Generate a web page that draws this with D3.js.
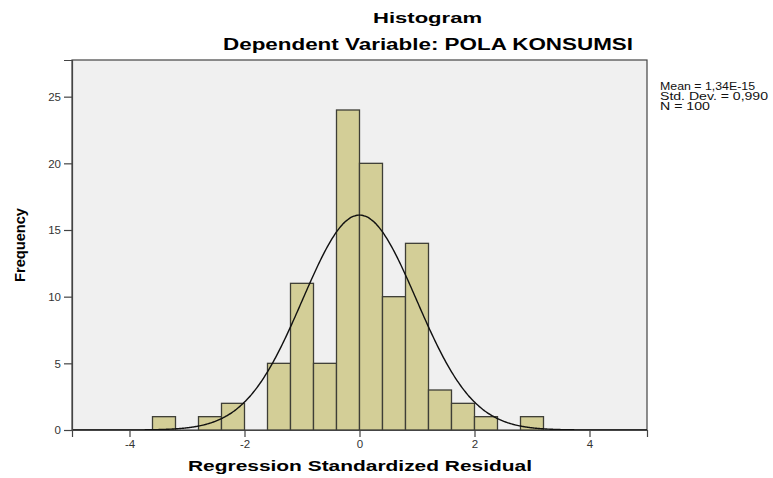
<!DOCTYPE html>
<html><head><meta charset="utf-8">
<script src="https://cdn.jsdelivr.net/npm/d3@7"></script>
<style>body{margin:0;background:#fff}svg{display:block;font-family:Arial,"Liberation Sans",sans-serif}</style>
</head><body><svg id="c" width="773" height="478"></svg>
<script>
const binStarts = [-3.6,-3.2,-2.8,-2.4,-2.0,-1.6,-1.2,-0.8,-0.4,0.0,0.4,0.8,1.2,1.6,2.0,2.4,2.8];
const counts    = [1,0,1,2,0,5,11,5,24,20,10,14,3,2,1,0,1];
const binWidth = 0.4;
const xTicks = [-4,-2,0,2,4];
const yTicks = [0,5,10,15,20,25];
const statLines = ["Mean = 1,34E-15","Std. Dev. = 0,990","N = 100"];
const mean = 1.34e-15, sd = 0.990, n = 100;

const svg = d3.select("#c");
const L=72,R=647,T=60,B=430;
const x = d3.scaleLinear().domain([-5,5]).range([L,R]);
const y = d3.scaleLinear().domain([0,27.75]).range([B,T]);

svg.append("rect").attr("x",L).attr("y",T).attr("width",R-L).attr("height",B-T)
  .attr("fill","#f0f0f0").attr("stroke","#444").attr("stroke-width",1.2);

const bins = binStarts.map((s,i)=>({s,c:counts[i]})).filter(d=>d.c>0);
svg.append("g").selectAll("rect").data(bins).join("rect")
  .attr("x",d=>x(d.s)).attr("width",d=>x(d.s+binWidth)-x(d.s))
  .attr("y",d=>y(d.c)).attr("height",d=>y(0)-y(d.c))
  .attr("fill","#d3ce97").attr("stroke","#3e3e36").attr("stroke-width",1.3);

// fitted normal curve from the stated mean / std. dev. / N
const pts = d3.range(-5,5.001,0.02).map(v=>[v, n*binWidth*Math.exp(-0.5*((v-mean)/sd)**2)/(sd*Math.sqrt(2*Math.PI))]);
svg.append("path").datum(pts).attr("fill","none").attr("stroke","#111").attr("stroke-width",1.4)
  .attr("d",d3.line().x(d=>x(d[0])).y(d=>y(d[1])).curve(d3.curveBasis));

// axes
const xa = svg.append("g").attr("transform",`translate(0,${B})`)
  .call(d3.axisBottom(x).tickValues(xTicks).tickSize(7).tickPadding(3).tickFormat(d3.format("d")));
const ya = svg.append("g").attr("transform",`translate(${L},0)`)
  .call(d3.axisLeft(y).tickValues(yTicks).tickSize(8).tickPadding(3));
[xa,ya].forEach(g=>{
  g.select(".domain").attr("stroke","#444").attr("stroke-width",1.2);
  g.selectAll(".tick line").attr("stroke","#444").attr("stroke-width",1.2);
  g.selectAll(".tick text").attr("fill","#333").style("font-size","11.5px").style("font-family","Arial,'Liberation Sans',sans-serif");
});
xa.selectAll(".tick text").text(d=>d<0?"-"+Math.abs(d):d);

// titles
svg.append("text").attr("x",427.5).attr("y",23).attr("text-anchor","middle")
  .attr("font-weight","bold").attr("font-size",15.5).attr("textLength",109).attr("lengthAdjust","spacingAndGlyphs").text("Histogram");
svg.append("text").attr("x",428).attr("y",50).attr("text-anchor","middle")
  .attr("font-weight","bold").attr("font-size",16).attr("textLength",410).attr("lengthAdjust","spacingAndGlyphs").text("Dependent Variable: POLA KONSUMSI");
svg.append("text").attr("x",360).attr("y",471).attr("text-anchor","middle")
  .attr("font-weight","bold").attr("font-size",15).attr("textLength",344).attr("lengthAdjust","spacingAndGlyphs").text("Regression Standardized Residual");
svg.append("text").attr("transform","translate(25,245) rotate(-90)").attr("text-anchor","middle")
  .attr("font-weight","bold").attr("font-size",14).attr("textLength",74).attr("lengthAdjust","spacingAndGlyphs").text("Frequency");

const lens=[95,108,50];
svg.append("g").selectAll("text").data(statLines).join("text")
  .attr("x",660).attr("y",(d,i)=>90+i*10).attr("font-size",10).attr("fill","#111")
  .attr("textLength",(d,i)=>lens[i]).attr("lengthAdjust","spacingAndGlyphs").text(d=>d);
</script></body></html>
